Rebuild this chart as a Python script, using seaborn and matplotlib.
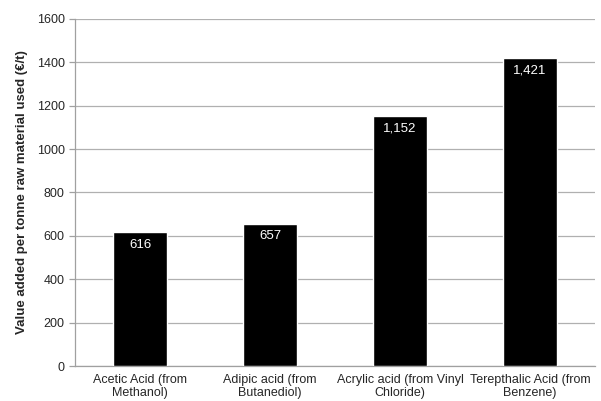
import numpy as np
import pandas as pd
import matplotlib
matplotlib.use('Agg')
import matplotlib.pyplot as plt
import seaborn as sns

# data
categories = ['Acetic Acid (from\nMethanol)', 'Adipic acid (from\nButanediol)',
              'Acrylic acid (from Vinyl\nChloride)', 'Terepthalic Acid (from\nBenzene)']
values = [616, 657, 1152, 1421]
value_labels = ['616', '657', '1,152', '1,421']

df = pd.DataFrame({'product': categories, 'value': values})

sns.set_style('white')
plt.rcParams['font.family'] = ['Liberation Sans', 'DejaVu Sans']

fig = plt.figure(figsize=(6.01, 4.01), dpi=100)
ax = fig.add_axes([0.125, 0.087, 0.865, 0.866])

sns.barplot(data=df, x='product', y='value', color='black', width=0.41,
            saturation=1, ax=ax, zorder=3)

ax.set_ylim(0, 1600)
ax.set_yticks(np.arange(0, 1601, 200))
ax.set_xlim(-0.5, 3.5)
ax.yaxis.grid(True, color='#b0b0b0', linewidth=0.9, zorder=0)
ax.set_axisbelow(True)

for s in ['top', 'right']:
    ax.spines[s].set_visible(False)
for s in ['left', 'bottom']:
    ax.spines[s].set_color('#a0a0a0')
    ax.spines[s].set_linewidth(0.9)

# category separator ticks
ax.set_xticks(np.arange(-0.5, 4.0, 1.0), minor=True)
ax.tick_params(axis='x', which='minor', length=5, color='#a0a0a0', width=0.9)
ax.tick_params(axis='x', which='major', length=0, labelsize=9, pad=6)
ax.tick_params(axis='y', length=4, color='#a0a0a0', width=0.9, labelsize=9, left=True)
for t in ax.get_xticklabels():
    t.set_linespacing(1.1)

ax.set_xlabel('')
ax.set_ylabel('Value added per tonne raw material used (€/t)', fontsize=9.5,
              fontweight='bold', labelpad=6)

for i, (v, lab) in enumerate(zip(values, value_labels)):
    ax.text(i, v - 30, lab, ha='center', va='top', color='white', fontsize=9.5, zorder=4)

fig.savefig('out.png', dpi=100)
